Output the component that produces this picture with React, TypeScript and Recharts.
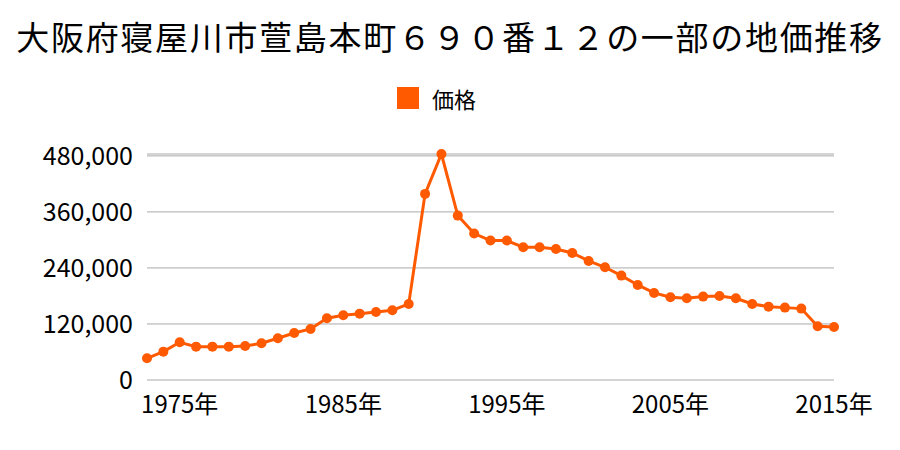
import React from "react";
import { LineChart, Line, XAxis, YAxis, CartesianGrid, Legend } from "recharts";

const years: number[] = [
  1973, 1974, 1975, 1976, 1977, 1978, 1979, 1980, 1981, 1982,
  1983, 1984, 1985, 1986, 1987, 1988, 1989, 1990, 1991, 1992,
  1993, 1994, 1995, 1996, 1997, 1998, 1999, 2000, 2001, 2002,
  2003, 2004, 2005, 2006, 2007, 2008, 2009, 2010, 2011, 2012,
  2013, 2014, 2015,
];

const prices: number[] = [
  46500, 60700, 80700, 71400, 71400, 71400, 72900, 78600, 89300, 100700,
  109300, 132200, 138600, 142100, 145700, 149300, 162900, 398600, 484000, 352100,
  313600, 298600, 298600, 284300, 284300, 280700, 272100, 255000, 241400, 223600,
  203600, 186400, 177100, 175000, 178600, 180000, 175000, 162900, 157100, 155000,
  152900, 115000, 113600,
];

const yTicks: number[] = [0, 120000, 240000, 360000, 480000];
const xTicks: number[] = [1975, 1985, 1995, 2005, 2015];

const seriesName = "価格";
const title = "大阪府寝屋川市萱島本町６９０番１２の一部の地価推移";

const data = years.map((y, i) => ({ year: y, price: prices[i] }));

const FONT = "'Noto Sans CJK JP', 'Noto Sans', sans-serif";
const COLOR = "#ff5a00";

const LegendContent = () => (
  <div
    style={{
      display: "flex",
      justifyContent: "flex-start",
      alignItems: "center",
      paddingLeft: 397,
      fontFamily: FONT,
      fontSize: 22,
      lineHeight: "32px",
      height: 32,
      color: "#000",
    }}
  >
    <span
      style={{
        display: "inline-block",
        width: 22,
        height: 22,
        background: COLOR,
        marginRight: 13,
      }}
    />
    <span>{seriesName}</span>
  </div>
);

export default function App() {
  return (
    <div style={{ position: "absolute", left: 0, top: 0, width: 900, height: 450, background: "#fff" }}>
      <svg
        width={900}
        height={80}
        style={{ position: "absolute", left: 0, top: 0 }}
      >
        <text
          x={450}
          y={50}
          textAnchor="middle"
          fontFamily={FONT}
          fontSize={33}
          letterSpacing={1.7}
          fill="#000"
        >
          {title}
        </text>
      </svg>
      <LineChart
        width={900}
        height={450}
        data={data}
        margin={{ top: 122, right: 66, bottom: 40, left: 0 }}
      >
        <CartesianGrid horizontal={true} vertical={false} stroke="#aaaaaa" strokeWidth={1} />
        <XAxis
          dataKey="year"
          type="number"
          domain={[1973, 2015]}
          ticks={xTicks}
          tickFormatter={(v: number) => `${v}年`}
          axisLine={false}
          tickLine={false}
          tickSize={6}
          tickMargin={10}
          height={30}
          interval={0}
          tick={{ fontFamily: FONT, fontSize: 24, fill: "#000" }}
        />
        <YAxis
          type="number"
          domain={[0, 484000]}
          ticks={yTicks}
          tickFormatter={(v: number) => v.toLocaleString("en-US")}
          axisLine={false}
          tickLine={false}
          tickSize={6}
          tickMargin={8}
          width={147}
          interval={0}
          tick={{ fontFamily: FONT, fontSize: 25, fill: "#000" }}
        />
        <Legend
          verticalAlign="top"
          content={<LegendContent />}
          wrapperStyle={{ position: "absolute", top: 82, left: 0, width: 900 }}
        />
        <Line
          type="linear"
          dataKey="price"
          name={seriesName}
          stroke={COLOR}
          strokeWidth={3}
          dot={{ r: 5, fill: COLOR, stroke: COLOR, strokeWidth: 0 }}
          activeDot={false}
          isAnimationActive={false}
        />
      </LineChart>
    </div>
  );
}
